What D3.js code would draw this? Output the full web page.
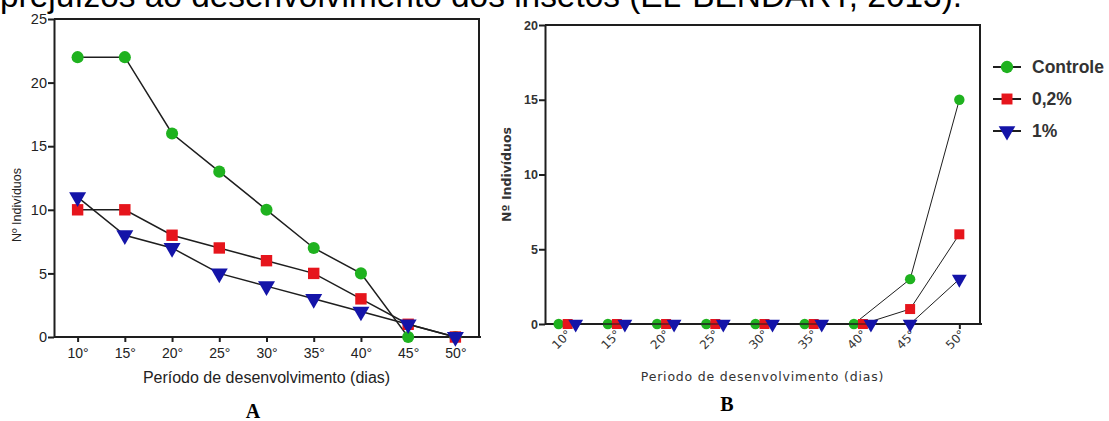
<!DOCTYPE html>
<html>
<head>
<meta charset="utf-8">
<script src="https://cdn.jsdelivr.net/npm/d3@7"></script>
<style>
    body { margin: 0; background: #fff; }
    svg { display: block; }
    .sans { font-family: "Liberation Sans", Arial, sans-serif; }
    .wide { font-family: "DejaVu Sans", Verdana, sans-serif; }
    .serif { font-family: "Liberation Serif", "Times New Roman", serif; }
</style>
</head>
<body>
<div id="chart"></div>
<script>
/* ===== DATA ===== */
const categories = ["10°", "15°", "20°", "25°", "30°", "35°", "40°", "45°", "50°"];
const seriesNames = ["Controle", "0,2%", "1%"];

// painel A
const controleA = [22, 22, 16, 13, 10, 7, 5, 0, 0];
const dose02A = [10, 10, 8, 7, 6, 5, 3, 1, 0];
const dose1A = [11, 8, 7, 5, 4, 3, 2, 1, 0];

// painel B
const controleB = [0, 0, 0, 0, 0, 0, 0, 3, 15];
const dose02B = [0, 0, 0, 0, 0, 0, 0, 1, 6];
const dose1B = [0, 0, 0, 0, 0, 0, 0, 0, 3];

const yTicksA = [0, 5, 10, 15, 20, 25];
const yTicksB = [0, 5, 10, 15, 20];

/* ===== STYLE ===== */
const colors = ["#1fb21f", "#e6151c", "#1414a8"];
const shapes = [d3.symbolCircle, d3.symbolSquare, d3.symbolTriangle];
const ink = "#1e1e1e";

const width = 1109;
const height = 421;

const svg = d3.select("#chart")
    .append("svg")
    .attr("width", width)
    .attr("height", height);

/* ===== TEXTO DO TOPO (cortado) ===== */
svg.append("text")
    .attr("class", "sans")
    .attr("x", 0)
    .attr("y", 6.5)
    .attr("font-size", 33.4)
    .attr("fill", "#000")
    .text("prejuízos ao desenvolvimento dos insetos (EL-BENDARY, 2013).");

/* ===== PANEL HELPER ===== */
function drawPanel(opts) {
    const g = svg.append("g");
    const x = d3.scalePoint().domain(categories).range([opts.left, opts.right]).padding(opts.pad);
    const y = d3.scaleLinear().domain([0, opts.yMax]).range([opts.bottom, opts.top]);

    // caixa (topo e direita)
    g.append("path")
        .attr("d", `M${opts.left},${opts.top}H${opts.right}V${opts.bottom}`)
        .attr("fill", "none")
        .attr("stroke", ink)
        .attr("stroke-width", 2);

    // eixo y
    const yAxis = g.append("g")
        .attr("transform", `translate(${opts.left},0)`)
        .call(d3.axisLeft(y).tickValues(opts.yTicks).tickSize(6).tickSizeOuter(0));
    yAxis.select(".domain").attr("stroke", ink).attr("stroke-width", 2);
    yAxis.selectAll(".tick line").attr("stroke", ink).attr("stroke-width", 2);
    yAxis.selectAll(".tick text")
        .attr("class", "sans")
        .attr("font-size", opts.yFont)
        .attr("font-weight", opts.yWeight)
        .attr("fill", opts.textFill)
        .attr("x", -7);

    // eixo x
    const xAxis = g.append("g")
        .attr("transform", `translate(0,${opts.bottom})`)
        .call(d3.axisBottom(x).tickSize(5).tickSizeOuter(0));
    xAxis.select(".domain")
        .attr("d", `M${opts.left},0H${opts.right + 2}`)
        .attr("stroke", ink).attr("stroke-width", 2);
    xAxis.selectAll(".tick line").attr("stroke", ink).attr("stroke-width", 2);
    const xt = xAxis.selectAll(".tick text")
        .attr("class", opts.xFontFamily)
        .attr("font-size", opts.xFont)
        .attr("fill", opts.textFill);
    if (opts.rotate) {
        xt.attr("text-anchor", "end")
            .attr("y", 0).attr("dy", "0.35em")
            .attr("transform", "translate(3,8) rotate(-45)");
    } else {
        xt.attr("y", 11).attr("dy", "0.71em");
    }

    // títulos dos eixos
    g.append("text")
        .attr("class", opts.titleFamily)
        .attr("transform", `translate(${opts.yTitleX},${(opts.top + opts.bottom) / 2 + opts.yTitleShift}) rotate(-90)`)
        .attr("text-anchor", "middle")
        .attr("font-size", opts.yTitleFont)
        .attr("font-weight", opts.yWeight)
        .attr("fill", opts.textFill)
        .text("Nº Indivíduos");

    g.append("text")
        .attr("class", opts.titleFamily)
        .attr("x", (opts.left + opts.right) / 2)
        .attr("y", opts.xTitleY)
        .attr("text-anchor", "middle")
        .attr("font-size", opts.xTitleFont)
        .attr("letter-spacing", opts.xTitleSpacing)
        .attr("fill", opts.textFill)
        .text(opts.xTitle);

    g.append("text")
        .attr("class", "serif")
        .attr("x", opts.letterX)
        .attr("y", opts.letterY)
        .attr("text-anchor", "middle")
        .attr("font-size", 20)
        .attr("font-weight", "bold")
        .attr("fill", "#000")
        .text(opts.letter);

    // deslocamento dos pontos sobrepostos em zero
    const allZero = categories.map((c, i) => opts.series.every(s => s[i] === 0));
    const px = (si, i) => x(categories[i]) + (opts.nudge && allZero[i] ? opts.nudge[si] : 0);

    const line = d3.line()
        .x(d => d.x)
        .y(d => y(d.v));

    opts.series.forEach((vals, si) => {
        const pts = vals.map((v, i) => ({ x: px(si, i), v: v }));
        g.append("path")
            .datum(pts)
            .attr("d", line)
            .attr("fill", "none")
            .attr("stroke", ink)
            .attr("stroke-width", opts.lineWidth);

        g.append("g")
            .selectAll("path")
            .data(pts)
            .enter()
            .append("path")
            .attr("d", d3.symbol().type(shapes[si]).size(opts.symSize[si]))
            .attr("transform", d => `translate(${d.x},${y(d.v)})` + (si === 2 ? " rotate(180)" : ""))
            .attr("fill", colors[si]);
    });
}

/* ===== PAINEL A ===== */
drawPanel({
    left: 54, right: 479, top: 19, bottom: 337, pad: 0.5,
    yMax: 25, yTicks: yTicksA,
    series: [controleA, dose02A, dose1A],
    yFont: 14.5, yWeight: "normal", textFill: "#222",
    xFont: 14, xFontFamily: "sans", rotate: false,
    titleFamily: "sans",
    yTitleX: 21, yTitleShift: 27, yTitleFont: 12.5,
    xTitle: "Período de desenvolvimento (dias)", xTitleY: 383, xTitleFont: 16, xTitleSpacing: 0,
    letter: "A", letterX: 253, letterY: 418,
    lineWidth: 1.5, symSize: [115, 130, 125],
    nudge: null
});

/* ===== PAINEL B ===== */
drawPanel({
    left: 545, right: 980, top: 25, bottom: 324, pad: 0.42,
    yMax: 20, yTicks: yTicksB,
    series: [controleB, dose02B, dose1B],
    yFont: 12.5, yWeight: "bold", textFill: "#333",
    xFont: 12, xFontFamily: "wide", rotate: true,
    titleFamily: "wide",
    yTitleX: 511, yTitleShift: 0, yTitleFont: 12.5,
    xTitle: "Periodo de desenvolvimento (dias)", xTitleY: 381, xTitleFont: 12.5, xTitleSpacing: 0.8,
    letter: "B", letterX: 727, letterY: 411,
    lineWidth: 1, symSize: [85, 100, 95],
    nudge: [-7, 2, 10]
});

/* ===== LEGENDA ===== */
const legend = svg.append("g").attr("transform", "translate(993,67)");
seriesNames.forEach((name, i) => {
    const row = legend.append("g").attr("transform", `translate(0,${i * 32})`);
    row.append("line")
        .attr("x1", 0).attr("x2", 28)
        .attr("stroke", ink).attr("stroke-width", 2);
    row.append("path")
        .attr("d", d3.symbol().type(shapes[i]).size(120))
        .attr("transform", `translate(14,0)` + (i === 2 ? " rotate(180)" : ""))
        .attr("fill", colors[i]);
    row.append("text")
        .attr("class", "sans")
        .attr("x", 39)
        .attr("dy", "0.35em")
        .attr("font-size", 17.5)
        .attr("font-weight", "bold")
        .attr("fill", "#333")
        .text(name);
});
</script>
</body>
</html>
